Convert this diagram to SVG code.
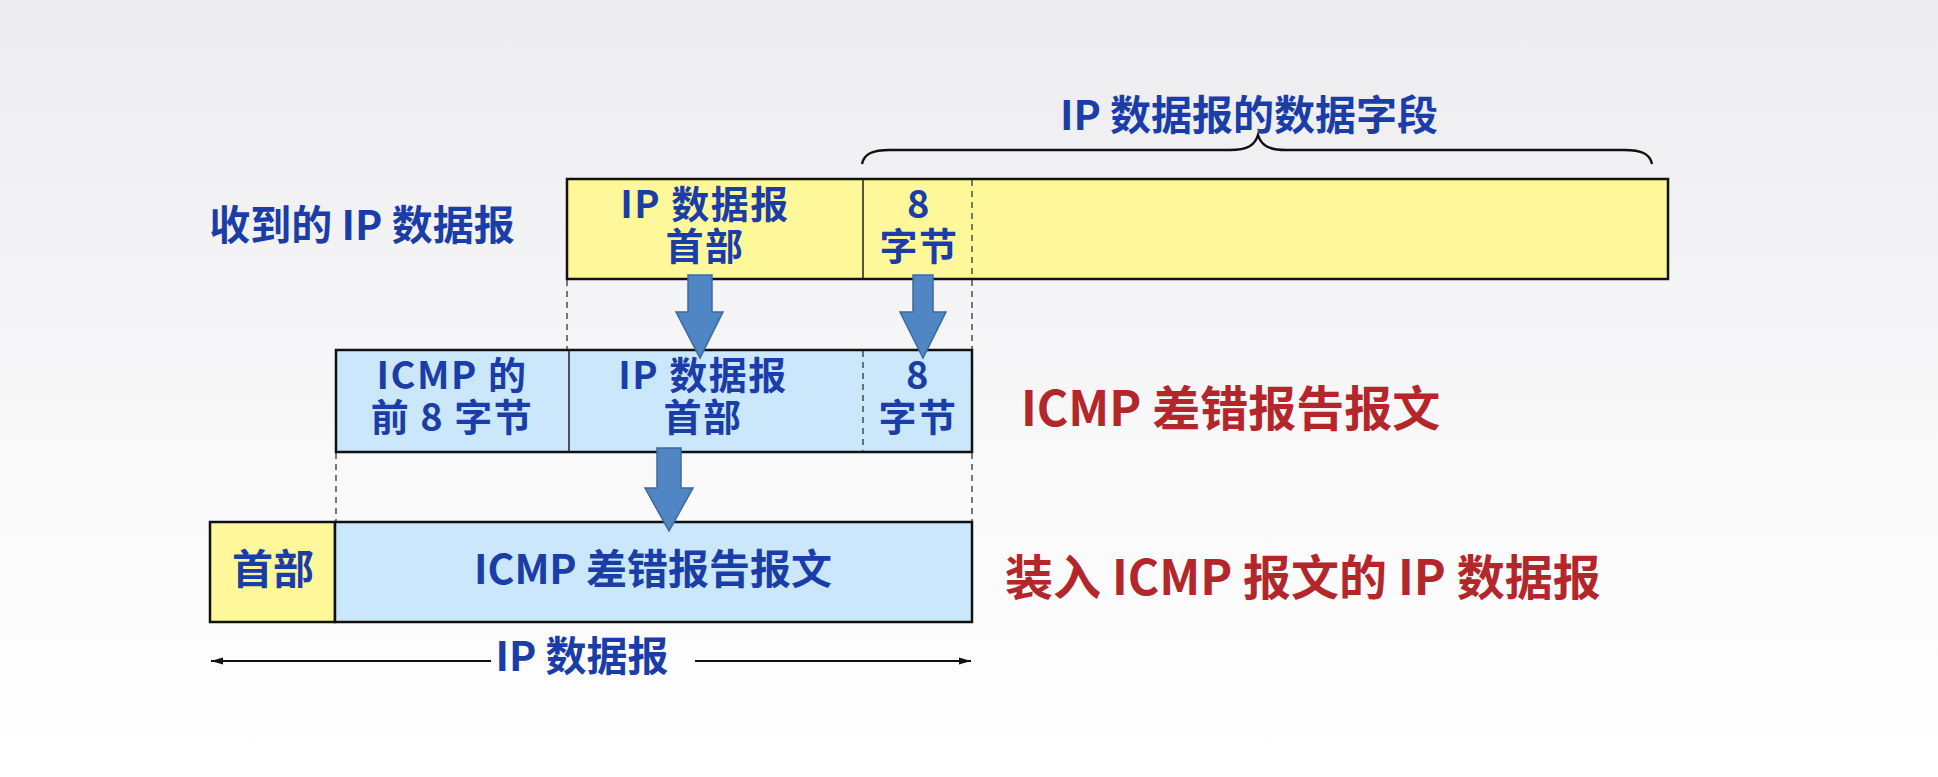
<svg xmlns="http://www.w3.org/2000/svg" width="1938" height="777" viewBox="0 0 1938 777">
<defs>
<linearGradient id="bg" x1="0" y1="0" x2="0" y2="1">
<stop offset="0" stop-color="#ececef"/>
<stop offset="0.55" stop-color="#f8f8f9"/>
<stop offset="1" stop-color="#ffffff"/>
</linearGradient>
<marker id="ah" viewBox="0 0 12 8" refX="12" refY="4" markerWidth="12" markerHeight="8" markerUnits="userSpaceOnUse" orient="auto-start-reverse">
<path d="M0,0.5 L12,4 L0,7.5 Z" fill="#111"/>
</marker>
<style>
.t{font-family:"Noto Sans CJK SC","Noto Sans",sans-serif;font-weight:bold;font-size:41px;fill:#1a3da8;text-anchor:middle}
.m{font-size:38px;letter-spacing:1.5px}
.r{font-family:"Noto Sans CJK SC","Noto Sans",sans-serif;font-weight:bold;font-size:48px;fill:#b3262a}
.y{fill:#fff89b;stroke:#111;stroke-width:2.5}
.b{fill:#cbe7fb;stroke:#111;stroke-width:2.5}
.sd{stroke:#222;stroke-width:1.5;fill:none}
.dd{stroke:#333;stroke-width:1.3;stroke-dasharray:6,5;fill:none}
.ar{fill:#4f86c3;stroke:#3c6a9e;stroke-width:1.5}
</style>
</defs>
<rect width="1938" height="777" fill="url(#bg)"/>

<g id="label-received">
<text class="t" x="362" y="240">收到的 IP 数据报</text>
</g>
<g id="label-data-field">
<text class="t" x="1249" y="130">IP 数据报的数据字段</text>
</g>

<g id="node-received-datagram">
<rect class="y" x="567" y="179" width="1101" height="100"/>
<line class="sd" x1="863" y1="179" x2="863" y2="279"/>
<line class="dd" x1="972" y1="180" x2="972" y2="278"/>
<text class="t m"><tspan x="705" y="218">IP 数据报</tspan><tspan x="705" y="260">首部</tspan></text>
<text class="t m"><tspan x="919" y="218">8</tspan><tspan x="919" y="260">字节</tspan></text>
</g>

<g id="node-icmp-message">
<rect class="b" x="336" y="350" width="636" height="102"/>
<line class="sd" x1="569" y1="350" x2="569" y2="452"/>
<line class="dd" x1="863" y1="351" x2="863" y2="451"/>
<text class="t m"><tspan x="452" y="389">ICMP 的</tspan><tspan x="452" y="431">前 8 字节</tspan></text>
<text class="t m"><tspan x="703" y="389">IP 数据报</tspan><tspan x="703" y="431">首部</tspan></text>
<text class="t m"><tspan x="918" y="389">8</tspan><tspan x="918" y="431">字节</tspan></text>
</g>
<g id="label-icmp-message">
<text class="r" x="1021" y="426">ICMP 差错报告报文</text>
</g>

<g id="node-ip-datagram">
<rect class="y" x="210" y="522" width="125" height="100"/>
<rect class="b" x="335" y="522" width="637" height="100"/>
<text class="t" x="273" y="584">首部</text>
<text class="t" x="653" y="584">ICMP 差错报告报文</text>
</g>
<g id="label-ip-with-icmp">
<text class="r" x="1005" y="595">装入 ICMP 报文的 IP 数据报</text>
</g>

<g id="connectors">
<path d="M862,164 C864,154 872,150 890,150 L1230,150 C1248,150 1255,145 1258,135 C1261,145 1268,150 1286,150 L1624,150 C1642,150 1650,154 1652,164" fill="none" stroke="#111" stroke-width="2.5"/>
<line class="dd" x1="567" y1="280" x2="567" y2="349"/>
<line class="dd" x1="972" y1="280" x2="972" y2="349"/>
<line class="dd" x1="336" y1="453" x2="336" y2="521"/>
<line class="dd" x1="972" y1="453" x2="972" y2="521"/>
<path class="ar" d="M688,275 L712,275 L712,312 L723,312 L700,358 L676,312 L688,312 Z"/>
<path class="ar" d="M913,275 L933,275 L933,312 L946,312 L923,358 L900,312 L913,312 Z"/>
<path class="ar" d="M657,448 L681,448 L681,488 L693,488 L669,531 L645,488 L657,488 Z"/>
<line x1="491" y1="661" x2="211" y2="661" stroke="#111" stroke-width="2" marker-end="url(#ah)"/>
<line x1="695" y1="661" x2="971" y2="661" stroke="#111" stroke-width="2" marker-end="url(#ah)"/>
<text class="t" x="582" y="671">IP 数据报</text>
</g>
</svg>
